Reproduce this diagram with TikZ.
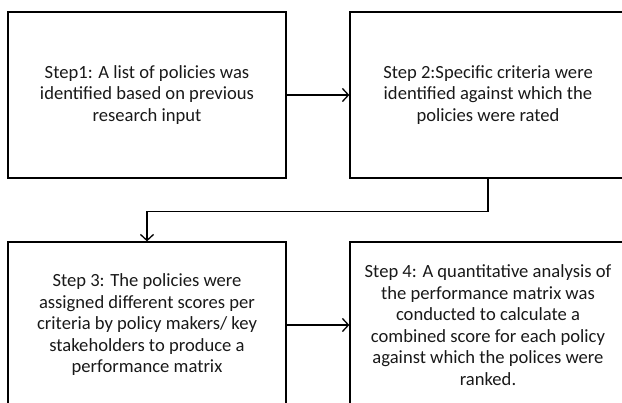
\documentclass[tikz,border=0pt]{standalone}
\usepackage{fontspec}
\setmainfont{Carlito}
\usetikzlibrary{arrows.meta}
\begin{document}
\begin{tikzpicture}[x=1pt,y=-1pt,
  stepbox/.style={draw=black, line width=1.3pt, minimum width=278pt, minimum height=166pt,
    align=center, inner sep=0pt, text=black!90,
    font=\fontsize{18.6}{21.5}\selectfont},
  arr/.style={draw=black, line width=1.3pt, -{Straight Barb[length=6pt,width=13pt,line width=1.3pt]}}]
\useasboundingbox (0,0) rectangle (622,403);
\clip (0,0) rectangle (622,403);
\node[stepbox] (n1) at (147,95) {Step1: A list of policies was\\identified based on previous\\research input};
\node[stepbox, minimum width=276pt] (n2) at (488,95) {Step 2:Specific criteria were\\identified against which the\\policies were rated};
\node[stepbox] (n3) at (147,325) {Step 3: The policies were\\assigned different scores per\\criteria by policy makers/ key\\stakeholders to produce a\\performance matrix};
\node[stepbox, minimum width=276pt] (n4) at (488,325) {Step 4: A quantitative analysis of\\the performance matrix was\\conducted to calculate a\\combined score for each policy\\against which the polices were\\ranked.};
\draw[arr] (n1.east) -- (n2.west);
\draw[arr] (n2.south) -- ++(0,33) -| (n3.north);
\draw[arr] (n3.east) -- (n4.west);
\end{tikzpicture}
\end{document}
